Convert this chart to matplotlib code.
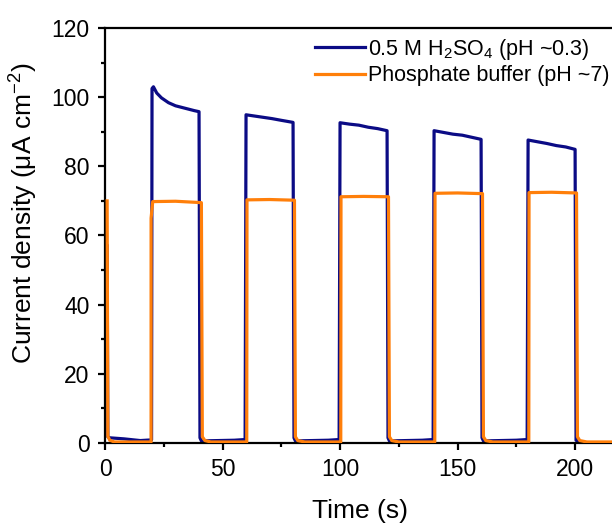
import matplotlib
matplotlib.use("Agg")
import matplotlib.pyplot as plt

plt.rcParams['font.family'] = ['Liberation Sans', 'DejaVu Sans']
plt.rcParams['mathtext.fontset'] = 'custom'
plt.rcParams['mathtext.rm'] = 'Liberation Sans'
plt.rcParams['mathtext.it'] = 'Liberation Sans:italic'

# chopped-light transient (time in s, current in uA/cm2)
blue_t = [0.9, 1.2, 2, 8, 15, 19.8, 20, 20.6, 22, 24, 27, 30, 34, 38, 40, 40.4, 41, 55, 59.6,
          60, 63, 67, 71, 75, 80, 80.4, 81, 95, 99.6,
          100, 104, 108, 112, 116, 120, 120.4, 121, 135, 139.6,
          140, 144, 148, 152, 156, 160, 160.4, 161, 175, 179.6,
          180, 184, 188, 192, 196, 200, 200.1, 200.4, 201]
blue_j = [57, 1.8, 1.5, 1.2, 0.7, 0.9, 102.5, 103, 101.2, 99.8, 98.4, 97.5, 96.8, 96.1, 95.8, 1.5, 0.6, 0.8, 1.0,
          94.9, 94.6, 94.2, 93.8, 93.3, 92.7, 1.5, 0.6, 0.8, 1.0,
          92.6, 92.2, 91.9, 91.3, 90.9, 90.3, 1.5, 0.6, 0.8, 1.0,
          90.3, 89.8, 89.3, 89.0, 88.4, 87.8, 1.5, 0.6, 0.8, 1.0,
          87.6, 87.1, 86.6, 86.0, 85.6, 84.9, 61, 0.8, 0.5]

orange_t = [0.9, 1.2, 2, 4, 19.6, 19.6, 20.3, 30, 41, 41.4, 42.5, 45, 60.3,
            60.4, 70, 80.6, 81, 82, 85, 100.3,
            100.4, 110, 120.6, 121, 122, 125, 140.3,
            140.4, 150, 160.6, 161, 162, 165, 180.3,
            180.4, 190, 200.6, 201, 202, 205, 216]
orange_j = [70, 2.0, 0.8, 0.3, 0.3, 65, 69.8, 69.9, 69.5, 1.8, 0.7, 0.3, 0.3,
            70.3, 70.4, 70.2, 1.8, 0.7, 0.3, 0.3,
            71.2, 71.3, 71.2, 1.8, 0.7, 0.3, 0.3,
            72.2, 72.3, 72.1, 1.8, 0.7, 0.3, 0.3,
            72.4, 72.5, 72.3, 1.8, 0.7, 0.3, 0.3]

labels = ['0.5 M H$_2$SO$_4$ (pH ~0.3)', 'Phosphate buffer (pH ~7)']
colors = ['#0B0B85', '#FF7F0A']

fig = plt.figure(figsize=(6.12, 5.27), dpi=100)
ax = fig.add_axes([0.1716, 0.1594, 0.8284, 0.7875])

ax.plot(blue_t, blue_j, color=colors[0], lw=2.3, label=labels[0], zorder=2)
ax.plot(orange_t, orange_j, color=colors[1], lw=2.3, label=labels[1], zorder=3)

ax.set_xlim(0, 215.7)
ax.set_ylim(0, 120)
ax.set_xticks([0, 50, 100, 150, 200])
ax.set_xticks([25, 75, 125, 175], minor=True)
ax.set_yticks(range(0, 121, 20))
ax.set_yticks(range(10, 120, 20), minor=True)

ax.spines['right'].set_visible(False)
for s in ['left', 'bottom', 'top']:
    ax.spines[s].set_linewidth(1.6)
ax.tick_params(which='major', direction='out', length=5, width=1.6, labelsize=16.5)
ax.tick_params(axis='x', which='major', pad=6)
ax.tick_params(axis='y', which='major', pad=6)
ax.tick_params(which='minor', direction='out', length=3, width=1.6)
ax.tick_params(top=False, right=False)

ax.set_xlabel('Time (s)', fontsize=19)
ax.set_ylabel('Current density (\u03bcA cm$^{-2}$)', fontsize=19)
ax.yaxis.set_label_coords(-0.128, 0.554)
ax.xaxis.set_label_coords(0.503, -0.135)

leg = ax.legend(loc='upper left', bbox_to_anchor=(0.385, 1.015), frameon=False,
                fontsize=15.5, handlelength=2.3, handletextpad=0.15,
                labelspacing=0.15, borderaxespad=0.3)
for line in leg.get_lines():
    line.set_linewidth(2.3)

fig.savefig('out.png', dpi=100)
